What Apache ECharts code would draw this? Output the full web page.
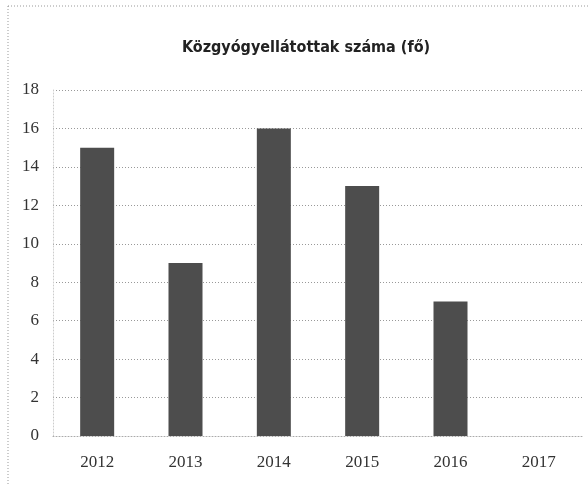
<!DOCTYPE html>
<html>
<head>
<meta charset="utf-8">
<script src="https://cdn.jsdelivr.net/npm/echarts@6/dist/echarts.min.js"></script>
<style>
  html, body { margin: 0; padding: 0; background: #fff; }
  #chart { width: 588px; height: 486px; }
</style>
</head>
<body>
<div id="chart"></div>
<script>
// Number of patients with public healthcare card, per year
const years = ['2012', '2013', '2014', '2015', '2016', '2017'];
const patients = [15, 9, 16, 13, 7, 0];
const titleText = 'Közgyógyellátottak száma (fő)';

const chart = echarts.init(document.getElementById('chart'), null, { renderer: 'canvas' });

chart.setOption({
  backgroundColor: '#ffffff',
  animation: false,
  title: {
    text: titleText,
    left: 301,
    top: 35,
    textAlign: 'center',
    textStyle: {
      fontFamily: 'DejaVu Sans Condensed, DejaVu Sans',
      fontSize: 16,
      fontWeight: 'bold',
      color: '#222'
    }
  },
  graphic: [{
    type: 'rect',
    shape: { x: 8, y: 6, width: 600, height: 500 },
    style: { fill: 'none', stroke: '#999', lineWidth: 1, lineDash: [1, 2] },
    silent: true
  }],
  grid: { left: 53, right: 5, top: 90, bottom: 50, containLabel: false },
  xAxis: {
    type: 'category',
    data: years,
    axisLine: { show: true, lineStyle: { color: '#aaa', type: [1, 2] } },
    axisTick: { show: false },
    axisLabel: {
      margin: 18,
      fontFamily: 'Liberation Serif',
      fontSize: 17,
      color: '#333'
    }
  },
  yAxis: {
    type: 'value',
    min: 0,
    max: 18,
    interval: 2,
    axisLine: { show: true, lineStyle: { color: '#ccc', type: [1, 2] } },
    axisTick: { show: false },
    splitLine: { lineStyle: { color: '#999', type: [1, 2], width: 1 } },
    axisLabel: {
      margin: 14,
      fontFamily: 'Liberation Serif',
      fontSize: 17,
      color: '#333'
    }
  },
  series: [{
    type: 'bar',
    data: patients,
    barWidth: 34,
    itemStyle: { color: '#4d4d4d' }
  }]
});
</script>
</body>
</html>
